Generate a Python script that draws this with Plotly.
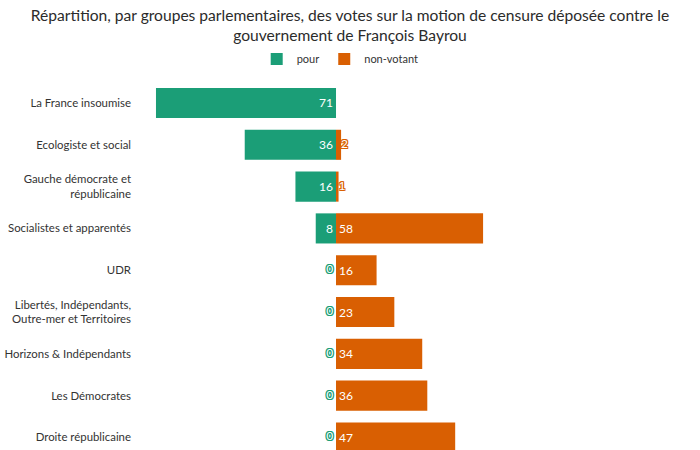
import plotly.graph_objects as go

categories = [
    "La France insoumise",
    "Ecologiste et social",
    "Gauche démocrate et<br>républicaine",
    "Socialistes et apparentés",
    "UDR",
    "Libertés, Indépendants,<br>Outre-mer et Territoires",
    "Horizons & Indépendants",
    "Les Démocrates",
    "Droite républicaine",
]
pour = [71, 36, 16, 8, 0, 0, 0, 0, 0]
non_votant = [0, 2, 1, 58, 16, 23, 34, 36, 47]

GREEN = "#1b9e77"
ORANGE = "#d95f02"
FONT = "Lato"
THRESH = 5


def outline(c):
    return ", ".join(f"{dx}px {dy}px 0 {c}" for dx in (-1, 0, 1) for dy in (-1, 0, 1) if dx or dy)


fig = go.Figure()

fig.add_trace(go.Bar(
    y=categories, x=[-v for v in pour], orientation="h", name="pour",
    marker=dict(color=GREEN, line=dict(width=0)),
    text=[str(v) if v >= THRESH else "" for v in pour],
    textposition="inside", insidetextanchor="start",
    textfont=dict(color="white", size=12, family=FONT),
    width=0.72, hoverinfo="skip",
))
fig.add_trace(go.Bar(
    y=categories, x=non_votant, orientation="h", name="non-votant",
    marker=dict(color=ORANGE, line=dict(width=0)),
    text=[str(v) if v >= THRESH else "" for v in non_votant],
    textposition="inside", insidetextanchor="start",
    textfont=dict(color="white", size=12, family=FONT),
    width=0.72, hoverinfo="skip",
))

sp = [(c, v) for c, v in zip(categories, pour) if v < THRESH]
fig.add_trace(go.Scatter(
    y=[c for c, v in sp], x=[-v for c, v in sp], mode="markers+text",
    marker=dict(size=3, opacity=0),
    text=[str(v) for c, v in sp], textposition="middle left",
    textfont=dict(color="white", size=12, family=FONT, shadow=outline(GREEN)),
    showlegend=False, hoverinfo="skip",
))
sn = [(c, v) for c, v in zip(categories, non_votant) if 0 < v < THRESH]
fig.add_trace(go.Scatter(
    y=[c for c, v in sn], x=[v for c, v in sn], mode="text",
    text=[str(v) for c, v in sn], textposition="middle right",
    textfont=dict(color="white", size=12, family=FONT, shadow=outline(ORANGE)),
    showlegend=False, hoverinfo="skip",
))

fig.update_layout(
    width=700, height=450,
    barmode="relative", bargap=0.28,
    paper_bgcolor="white", plot_bgcolor="white",
    margin=dict(l=140, r=10, t=80, b=0, autoexpand=False),
    font=dict(family=FONT, color="#333333"),
    title=dict(
        text="Répartition, par groupes parlementaires, des votes sur la motion de censure déposée contre le<br>gouvernement de François Bayrou",
        x=0.5, xref="container", xanchor="center",
        y=0.954, yref="container", yanchor="top",
        font=dict(size=15.6, color="#2b2b2b", family=FONT),
    ),
    legend=dict(
        orientation="h", x=0.486, xref="container", xanchor="center",
        y=1 - 59 / 450, yref="container", yanchor="middle",
        font=dict(size=11, color="#333333"),
        traceorder="normal", itemwidth=30,
    ),
    xaxis=dict(range=[-77.3, 139.6], visible=False, fixedrange=True),
    yaxis=dict(
        range=[8.3, -0.55], showgrid=False, zeroline=False, showline=False,
        ticks="", tickfont=dict(size=11.4, color="#333333"), ticklabelstandoff=8,
    ),
    showlegend=True,
)

fig.write_html("out.html", config={"displayModeBar": False},
               post_script="document.body.style.margin='0';")
